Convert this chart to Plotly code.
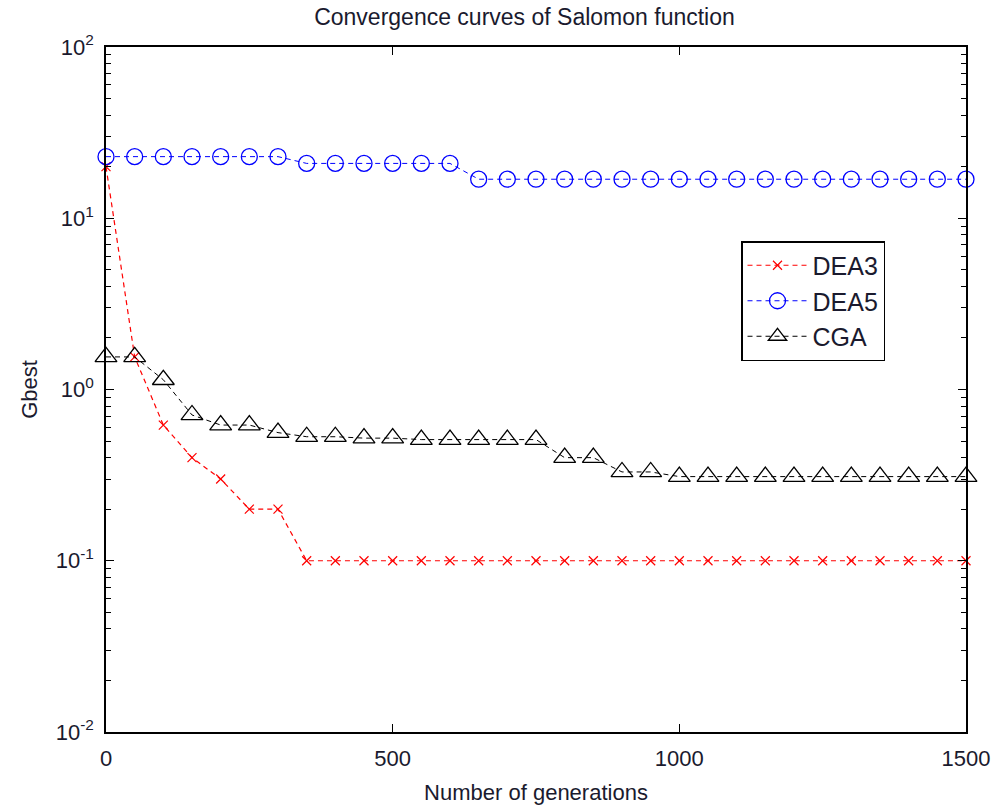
import plotly.graph_objects as go

generations = [0, 50, 100, 150, 200, 250, 300, 350, 400, 450, 500, 550, 600, 650, 700,
               750, 800, 850, 900, 950, 1000, 1050, 1100, 1150, 1200, 1250, 1300, 1350,
               1400, 1450, 1500]

dea3 = [20.0, 1.55, 0.62, 0.40, 0.30, 0.20, 0.20] + [0.1] * 24
dea5 = [22.9] * 7 + [20.9] * 6 + [16.9] * 18
cga = [1.55, 1.55, 1.14, 0.71, 0.62, 0.62, 0.56, 0.53, 0.53, 0.52, 0.52, 0.51, 0.51,
       0.51, 0.51, 0.51, 0.40, 0.40, 0.33, 0.33] + [0.31] * 11

series_names = ["DEA3", "DEA5", "CGA"]
ytick_vals = [0.01, 0.1, 1, 10, 100]
ytick_text = ["10<sup>-2</sup>", "10<sup>-1</sup>", "10<sup>0</sup>", "10<sup>1</sup>", "10<sup>2</sup>"]
xtick_vals = [0, 500, 1000, 1500]

FONT = "Liberation Sans, Arial, sans-serif"
TXT = "#1a1a2e"

fig = go.Figure()
fig.add_trace(go.Scatter(
    x=generations, y=dea3, name=series_names[0], mode="lines+markers",
    line=dict(color="#ff0000", width=1.2, dash="5px,4px"),
    marker=dict(symbol="x-thin-open", size=9, color="#ff0000", line=dict(color="#ff0000", width=1.2)),
    cliponaxis=False))
fig.add_trace(go.Scatter(
    x=generations, y=dea5, name=series_names[1], mode="lines+markers",
    line=dict(color="#0000ff", width=1, dash="5px,4px"),
    marker=dict(symbol="circle-open", size=16, color="#0000ff", line=dict(color="#0000ff", width=1.3)),
    cliponaxis=False))
fig.add_trace(go.Scatter(
    x=generations, y=cga, name=series_names[2], mode="lines+markers",
    line=dict(color="#000000", width=1, dash="5px,4px"),
    marker=dict(symbol="triangle-up-open", size=19, color="#000000", line=dict(color="#000000", width=1.3)),
    cliponaxis=False))

minor_vals = []
for d in [0.01, 0.1, 1, 10]:
    for k in range(2, 10):
        minor_vals.append(round(d * k, 6))

fig.update_layout(
    width=998, height=807,
    margin=dict(l=106, r=32, t=47, b=75, autoexpand=False),
    paper_bgcolor="white", plot_bgcolor="white",
    font=dict(family=FONT, size=22, color=TXT),
    title=dict(text="Convergence curves of Salomon function", x=(305 + 744) / 2 / 998, xanchor="center",
               y=1 - 17 / 807, yanchor="middle", yref="container",
               font=dict(family=FONT, size=23, color=TXT)),
    showlegend=True,
    legend=dict(x=(741 - 106) / 860, y=(732 - 241) / 685, xanchor="left", yanchor="top",
                bgcolor="white", bordercolor="black", borderwidth=1.5,
                font=dict(family=FONT, size=25, color=TXT),
                itemwidth=60, tracegroupgap=2),
    xaxis=dict(range=[0, 1500], tickvals=xtick_vals, ticks="inside", ticklen=8,
               tickcolor="black", tickwidth=1, showline=True, linecolor="black", linewidth=1.5,
               mirror="ticks", showgrid=False, zeroline=False, ticklabelstandoff=6,
               automargin=False,
               tickfont=dict(family=FONT, size=22, color=TXT),
               title=dict(text="Number of generations", standoff=14,
                          font=dict(family=FONT, size=22, color=TXT))),
    yaxis=dict(type="log", range=[-2, 2], tickvals=ytick_vals, ticktext=ytick_text,
               ticks="inside", ticklen=8, tickcolor="black", tickwidth=1,
               showline=True, linecolor="black", linewidth=1.5, mirror="ticks",
               showgrid=False, zeroline=False, ticklabelstandoff=6, automargin=False,
               minor=dict(tickvals=minor_vals, ticks="inside", ticklen=5,
                          tickcolor="black", tickwidth=1, showgrid=False),
               tickfont=dict(family=FONT, size=22, color=TXT),
               title=dict(text="Gbest", standoff=12,
                          font=dict(family=FONT, size=22, color=TXT))),
)

fig.write_html("out.html")
